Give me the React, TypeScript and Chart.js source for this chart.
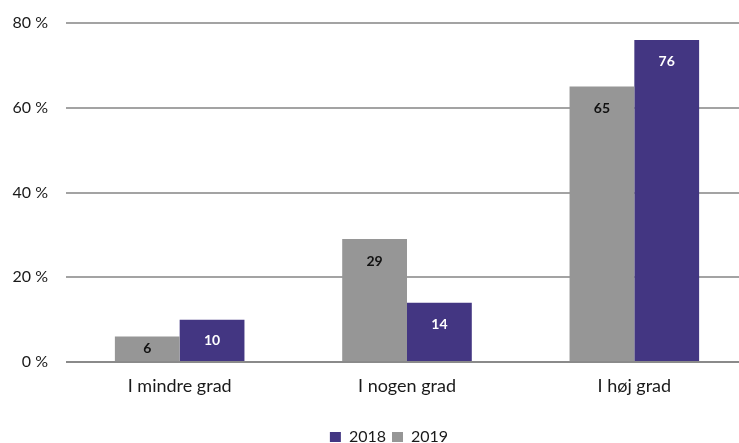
import React, { useEffect, useRef } from "react";
import { Chart, registerables } from "chart.js";

Chart.register(...registerables);

const categories = ["I mindre grad", "I nogen grad", "I høj grad"];
const values2019 = [6, 29, 65];
const values2018 = [10, 14, 76];
const yTicks = [0, 20, 40, 60, 80];

const GRAY = "#969696";
const PURPLE = "#433682";
const FONT = "Lato, 'Open Sans', sans-serif";

// Value labels placed just inside the top of each bar
const barValueLabels = {
  id: "barValueLabels",
  afterDatasetsDraw(chart: any) {
    const ctx = chart.ctx;
    ctx.save();
    ctx.font = `bold 14px ${FONT}`;
    ctx.textAlign = "center";
    ctx.textBaseline = "middle";
    chart.data.datasets.forEach((ds: any, di: number) => {
      const meta = chart.getDatasetMeta(di);
      meta.data.forEach((bar: any, i: number) => {
        const h = bar.base - bar.y;
        const cy = bar.y + Math.min(22, h / 2);
        ctx.fillStyle = ds.labelColor;
        ctx.fillText(String(ds.data[i]), bar.x, cy);
      });
    });
    ctx.restore();
  },
};

// Nudge the legend so it centres under the whole plot
const legendShift = {
  id: "legendShift",
  afterLayout(chart: any) {
    if (chart.legend) {
      chart.legend.left += 15;
      chart.legend.right += 15;
    }
  },
};

export default function App() {
  const ref = useRef<HTMLCanvasElement | null>(null);

  useEffect(() => {
    if (!ref.current) return;
    const chart = new Chart(ref.current, {
      type: "bar",
      data: {
        labels: categories,
        datasets: [
          {
            label: "2019",
            data: values2019,
            backgroundColor: GRAY,
            categoryPercentage: 0.57,
            barPercentage: 1,
            labelColor: "#111111",
          } as any,
          {
            label: "2018",
            data: values2018,
            backgroundColor: PURPLE,
            categoryPercentage: 0.57,
            barPercentage: 1,
            labelColor: "#ffffff",
          } as any,
        ],
      },
      options: {
        responsive: false,
        animation: false,
        layout: { padding: { top: 23, right: 30, left: 0, bottom: 0 } },
        plugins: {
          tooltip: { enabled: false },
          legend: {
            position: "bottom",
            reverse: true,
            labels: {
              boxWidth: 11,
              boxHeight: 10,
              padding: 6,
              color: "#1a1a1a",
              font: { family: FONT, size: 16 },
            },
          },
        },
        scales: {
          x: {
            grid: { display: false },
            border: { display: false },
            ticks: {
              color: "#1a1a1a",
              padding: 5,
              font: { family: FONT, size: 18 },
            },
            afterFit(scale: any) {
              scale.height = 61;
            },
          },
          y: {
            min: 0,
            max: 80,
            afterBuildTicks(scale: any) {
              scale.ticks = yTicks.map((v) => ({ value: v }));
            },
            border: { display: false },
            grid: {
              drawTicks: false,
              lineWidth: 2,
              color: (c: any) => (c.tick && c.tick.value === 0 ? "#8a8a8a" : "#a3a3a3"),
            },
            ticks: {
              padding: 18,
              color: "#1a1a1a",
              font: { family: FONT, size: 16 },
              callback: (v: any) => `${v} %`,
            },
            afterFit(scale: any) {
              scale.width = 66;
              scale.paddingTop = 0;
              scale.paddingBottom = 0;
            },
          },
        },
      } as any,
      plugins: [barValueLabels, legendShift],
    });
    return () => chart.destroy();
  }, []);

  return (
    <div
      style={{
        position: "fixed",
        left: 0,
        top: 0,
        width: 739,
        height: 443,
        overflow: "hidden",
        background: "#ffffff",
      }}
    >
      <canvas ref={ref} width={778} height={455} style={{ width: 778, height: 455, display: "block" }} />
    </div>
  );
}
